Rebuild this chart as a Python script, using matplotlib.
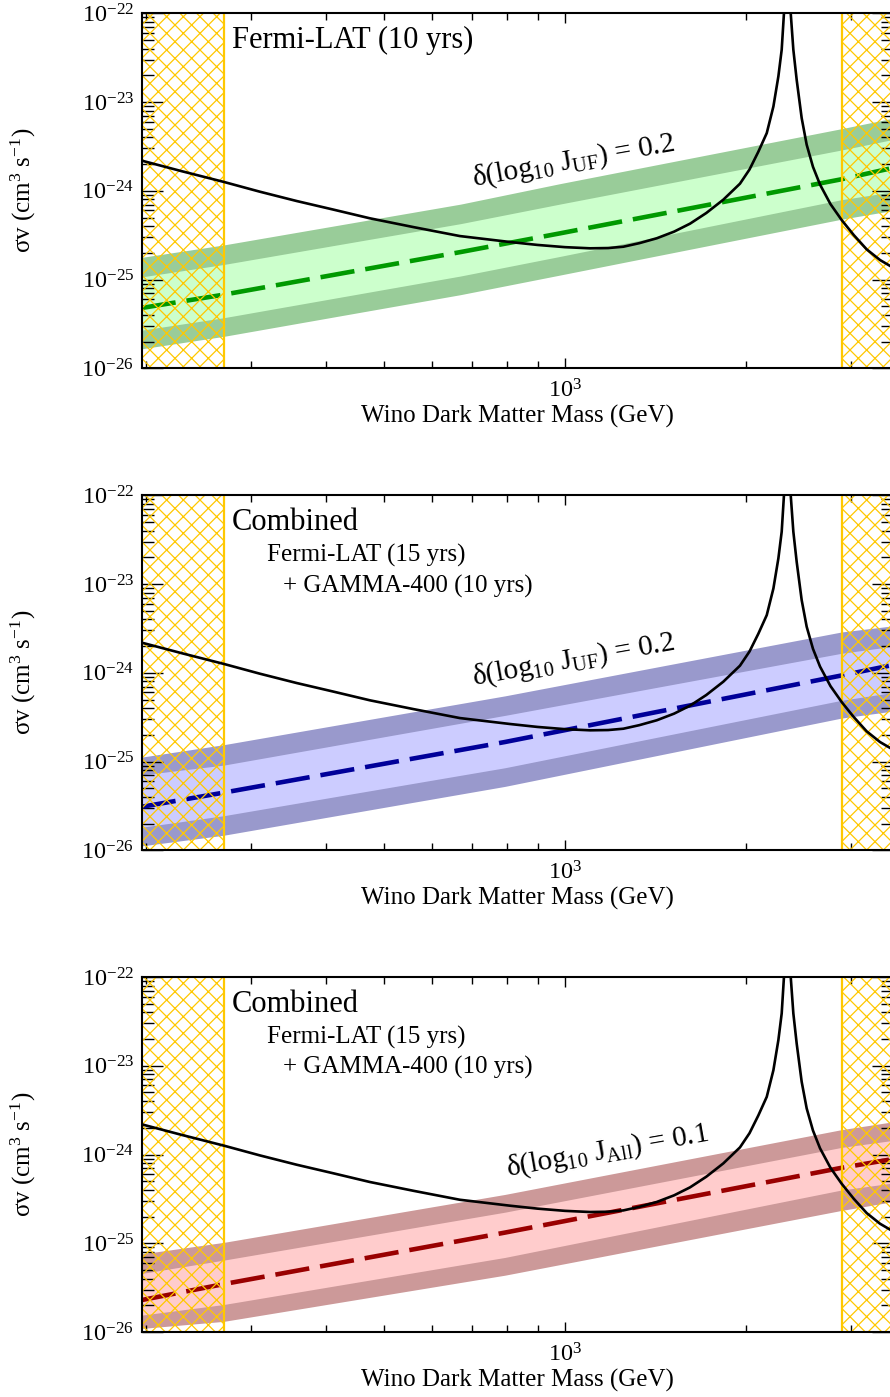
import numpy as np
import matplotlib
matplotlib.use("Agg")
import matplotlib.pyplot as plt
from matplotlib.ticker import NullFormatter, FixedLocator, LogLocator

plt.rcParams['font.family'] = ['Liberation Serif', 'DejaVu Serif']
plt.rcParams['mathtext.fontset'] = 'custom'
plt.rcParams['mathtext.rm'] = 'Liberation Serif'
plt.rcParams['mathtext.it'] = 'Liberation Serif:italic'
plt.rcParams['mathtext.bf'] = 'Liberation Serif:bold'
plt.rcParams['hatch.linewidth'] = 0.9

# ---------------- data (log10 of sigma v) ----------------
# Wino thermal cross-section curve
wino_mass = [197, 230, 270, 310, 357, 410, 473, 560, 668, 810, 900, 1000, 1101,
             1180, 1251, 1330, 1422, 1520, 1616, 1720, 1836, 1957, 2030, 2100,
             2169, 2225, 2268, 2297, 2317, 2347, 2378, 2402, 2433, 2480, 2528,
             2590, 2661, 2770, 2892, 3030, 3183, 3350, 3530]
wino_logsv = [-23.66, -23.78, -23.90, -24.01, -24.115, -24.21, -24.31, -24.41,
              -24.51, -24.577, -24.61, -24.635, -24.648, -24.645, -24.63, -24.59,
              -24.535, -24.46, -24.37, -24.25, -24.10, -23.92, -23.76, -23.56,
              -23.35, -23.05, -22.71, -22.41, -22.00, -21.30, -22.00, -22.41,
              -22.75, -23.18, -23.48, -23.73, -23.93, -24.15, -24.33, -24.50,
              -24.66, -24.78, -24.87]

# Panel 1: Fermi-LAT (10 yrs), delta(log10 J_UF) = 0.2
m1 = [197, 270, 670, 980, 2890, 3530]
c1 = [-25.32, -25.17, -24.69, -24.48, -23.87, -23.74]
ou1 = [-24.75, -24.61, -24.15, -23.92, -23.30, -23.18]
iu1 = [-24.97, -24.83, -24.37, -24.15, -23.54, -23.42]
il1 = [-25.57, -25.43, -24.96, -24.74, -24.10, -24.01]
ol1 = [-25.78, -25.64, -25.17, -24.95, -24.32, -24.22]

# Panel 2: Combined, delta(log10 J_UF) = 0.2
m2 = [197, 270, 794, 2890, 3530]
c2 = [-25.51, -25.35, -24.78, -24.03, -23.91]
ou2 = [-24.95, -24.81, -24.26, -23.54, -23.47]
iu2 = [-25.15, -25.04, -24.48, -23.78, -23.70]
il2 = [-25.74, -25.61, -25.07, -24.31, -24.22]
ol2 = [-25.95, -25.83, -25.28, -24.51, -24.43]

# Panel 3: Combined, delta(log10 J_All) = 0.1
m3 = [197, 270, 794, 2890, 3530]
c3 = [-25.64, -25.46, -24.88, -24.15, -24.05]
ou3 = [-25.12, -24.99, -24.45, -23.72, -23.63]
iu3 = [-25.34, -25.19, -24.65, -23.92, -23.84]
il3 = [-25.81, -25.69, -25.16, -24.40, -24.32]
ol3 = [-25.96, -25.88, -25.36, -24.63, -24.53]

excluded_low = 270.0
excluded_high = 2890.0

y_major = [1e-26, 1e-25, 1e-24, 1e-23, 1e-22]
x_major = [1000]

panels = [
    dict(m=m1, c=c1, ou=ou1, iu=iu1, il=il1, ol=ol1,
         dark='#99CC99', light='#CCFFCC', line='#009900',
         label=r'δ(log$_{10}$ J$_{\mathrm{UF}}$) = 0.2', lpos=(0.574, 0.585),
         title='Fermi-LAT (10 yrs)', sub=None),
    dict(m=m2, c=c2, ou=ou2, iu=iu2, il=il2, ol=ol2,
         dark='#9999CC', light='#CCCCFF', line='#000099',
         label=r'δ(log$_{10}$ J$_{\mathrm{UF}}$) = 0.2', lpos=(0.574, 0.537),
         title='Combined', sub=True),
    dict(m=m3, c=c3, ou=ou3, iu=iu3, il=il3, ol=ol3,
         dark='#CC9999', light='#FFCCCC', line='#990000',
         label=r'δ(log$_{10}$ J$_{\mathrm{All}}$) = 0.1', lpos=(0.619, 0.510),
         title='Combined', sub=True),
]

W, H = 890.0, 1397.0
fig = plt.figure(figsize=(W / 100, H / 100), dpi=100)
left_px, right_px = 142.3, 893.0
tops = [13.3, 495.3, 977.0]
ph = 355.0
gold = '#FFC800'
xmin = 10 ** (3 + (left_px - 565) / 600.0)
xmax = 10 ** (3 + (right_px - 565) / 600.0)

for top, p in zip(tops, panels):
    ax = fig.add_axes([left_px / W, 1 - (top + ph) / H, (right_px - left_px) / W, ph / H])
    ax.set_xscale('log')
    ax.set_yscale('log')
    m = np.array(p['m'], float)
    ax.fill_between(m, 10 ** np.array(p['ol']), 10 ** np.array(p['ou']),
                    color=p['dark'], lw=0, zorder=1)
    ax.fill_between(m, 10 ** np.array(p['il']), 10 ** np.array(p['iu']),
                    color=p['light'], lw=0, zorder=1.5)
    ax.plot(m, 10 ** np.array(p['c']), color=p['line'], lw=3.3,
            dashes=(7.5, 2.4), zorder=2)
    ax.axvspan(100, excluded_low, facecolor='none', edgecolor=gold,
               hatch='xx', lw=0, zorder=3)
    ax.axvspan(excluded_high, 10000, facecolor='none', edgecolor=gold,
               hatch='xx', lw=0, zorder=3)
    ax.axvline(excluded_low, color=gold, lw=1.6, zorder=3.5)
    ax.axvline(excluded_high, color=gold, lw=1.6, zorder=3.5)
    ax.plot(wino_mass, 10 ** np.array(wino_logsv), color='black', lw=1.9,
            zorder=5, solid_joinstyle='round')

    ax.set_xlim(xmin, xmax)
    ax.set_ylim(1e-26, 1e-22)
    ax.yaxis.set_major_locator(FixedLocator(y_major))
    ax.xaxis.set_major_locator(FixedLocator(x_major))
    ax.yaxis.set_minor_locator(LogLocator(base=10, subs=np.arange(2, 10), numticks=20))
    ax.xaxis.set_minor_locator(LogLocator(base=10, subs=np.arange(2, 10), numticks=20))
    ax.xaxis.set_minor_formatter(NullFormatter())
    ax.yaxis.set_minor_formatter(NullFormatter())
    ax.tick_params(which='both', direction='in', top=True, right=True,
                   width=1.0, colors='black', labelsize=17.5)
    ax.tick_params(axis='y', which='major', length=15, pad=6)
    ax.tick_params(axis='y', which='minor', length=8.5)
    ax.tick_params(axis='x', which='major', length=7.5, pad=8)
    ax.tick_params(axis='x', which='minor', length=5)
    for s in ax.spines.values():
        s.set_linewidth(1.5)
        s.set_zorder(6)

    ax.set_xlabel('Wino Dark Matter Mass (GeV)', fontsize=18, labelpad=2)
    ax.set_ylabel(r'σv (cm$^{3}$ s$^{-1}$)', fontsize=18)
    ax.yaxis.set_label_coords(-0.139, 0.5)

    ax.text(0.1195, 0.902, p['title'], transform=ax.transAxes, fontsize=22,
            va='baseline', ha='left', zorder=7)
    if p['sub']:
        ax.text(0.1657, 0.813, 'Fermi-LAT (15 yrs)', transform=ax.transAxes,
                fontsize=18, va='baseline', ha='left', zorder=7)
        ax.text(0.1878, 0.7268, '+ GAMMA-400 (10 yrs)', transform=ax.transAxes,
                fontsize=18, va='baseline', ha='left', zorder=7)
    ax.text(p['lpos'][0], p['lpos'][1], p['label'], transform=ax.transAxes,
            fontsize=21, rotation=10, rotation_mode='anchor',
            ha='center', va='center', zorder=7)

fig.savefig('out.png', dpi=100)
